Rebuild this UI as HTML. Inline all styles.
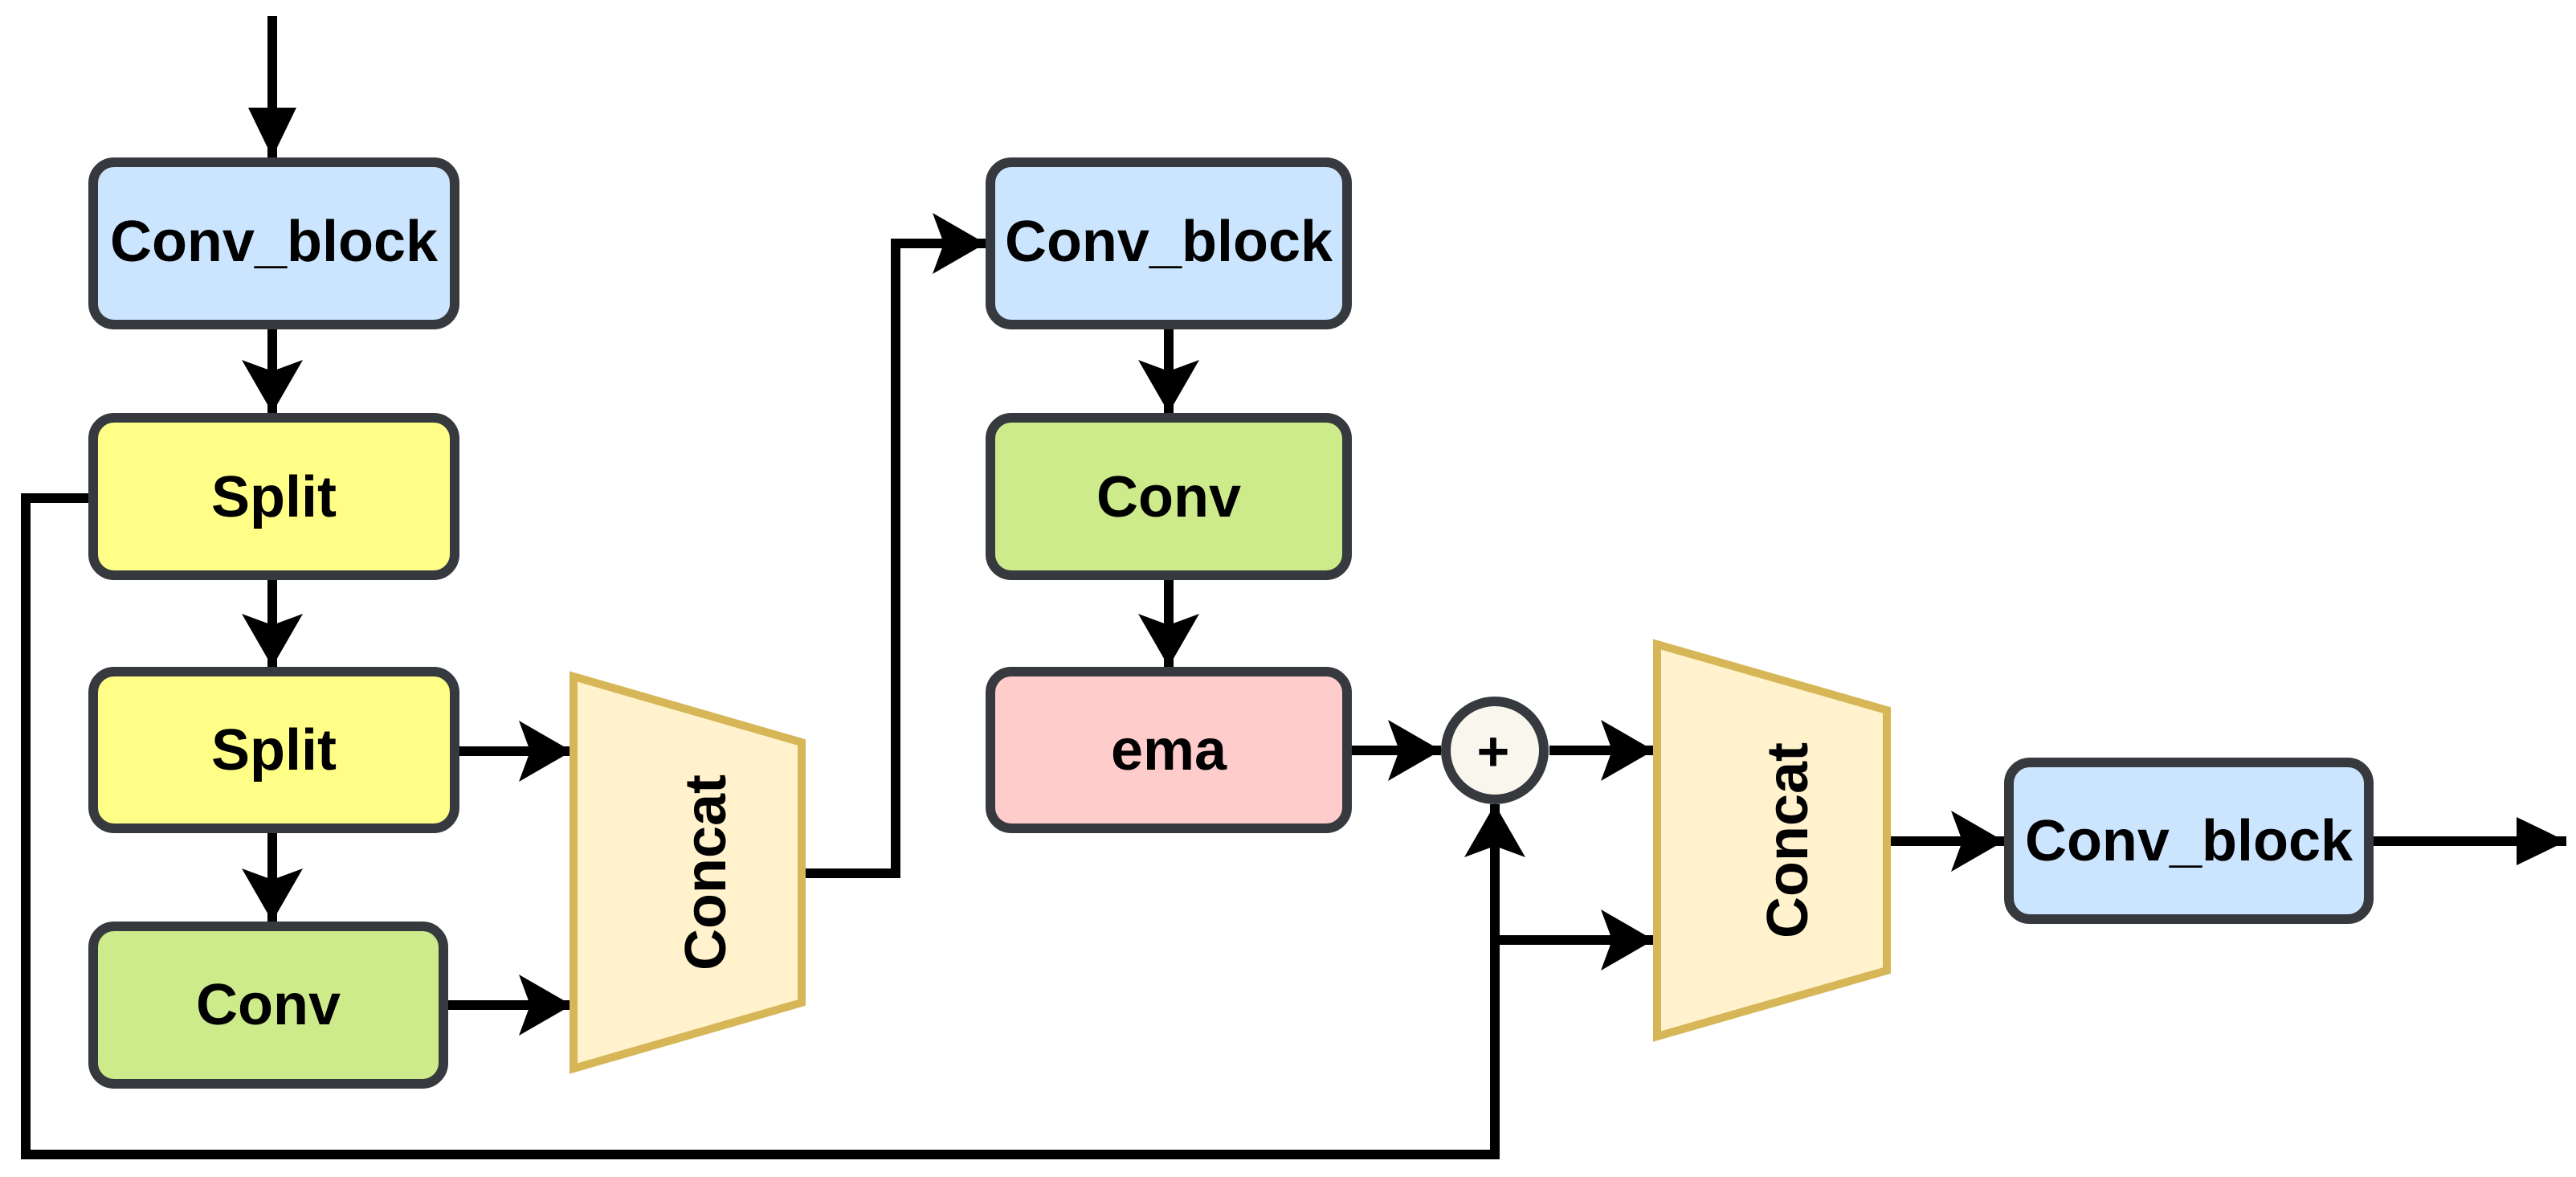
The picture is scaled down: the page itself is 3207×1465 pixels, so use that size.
<!DOCTYPE html>
<html><head><meta charset="utf-8"><style>
html,body{margin:0;padding:0;background:#fff}
svg{display:block}
text{font-family:"Liberation Sans",Arial,sans-serif;font-weight:bold;fill:#000}
</style></head><body>
<svg width="3207" height="1465" viewBox="0 0 3207 1465" xmlns="http://www.w3.org/2000/svg">
<defs>
<marker id="a" markerUnits="userSpaceOnUse" markerWidth="80" markerHeight="90" refX="66" refY="40" orient="auto" overflow="visible">
<path d="M66,40 L0,2 L14,40 L0,78 Z" fill="#000"/>
</marker>
<marker id="b" markerUnits="userSpaceOnUse" markerWidth="80" markerHeight="90" refX="62" refY="36" orient="auto" overflow="visible">
<path d="M62,36 L0,6 L0,66 Z" fill="#000"/>
</marker>
</defs>
<g fill="none" stroke="#000" stroke-width="12">
<line x1="339" y1="20" x2="339" y2="196" marker-end="url(#b)"/>
<line x1="339" y1="410" x2="339" y2="514" marker-end="url(#a)"/>
<line x1="339" y1="722" x2="339" y2="830" marker-end="url(#a)"/>
<line x1="339" y1="1037" x2="339" y2="1147" marker-end="url(#a)"/>
<line x1="572" y1="935" x2="712" y2="935" marker-end="url(#a)"/>
<line x1="558" y1="1251" x2="712" y2="1251" marker-end="url(#a)"/>
<polyline points="1002,1087 1115,1087 1115,303 1227,303" marker-end="url(#a)"/>
<line x1="1455" y1="410" x2="1455" y2="514" marker-end="url(#a)"/>
<line x1="1455" y1="722" x2="1455" y2="830" marker-end="url(#a)"/>
<line x1="1683" y1="934" x2="1794" y2="934" marker-end="url(#a)"/>
<line x1="1929" y1="934" x2="2059" y2="934" marker-end="url(#a)"/>
<polyline points="110,620 32,620 32,1437 1861,1437 1861,1001" marker-end="url(#a)"/>
<line x1="1861" y1="1170" x2="2059" y2="1170" marker-end="url(#a)"/>
<line x1="2352" y1="1047" x2="2495" y2="1047" marker-end="url(#a)"/>
<line x1="2955" y1="1047" x2="3195" y2="1047" marker-end="url(#b)"/>
</g>
<g stroke="#36393d" stroke-width="12">
<rect x="116" y="202" width="450" height="202" rx="26" fill="#cce5ff"/>
<rect x="116" y="520" width="450" height="196" rx="26" fill="#ffff88"/>
<rect x="116" y="836" width="450" height="195" rx="26" fill="#ffff88"/>
<rect x="116" y="1153" width="436" height="196" rx="26" fill="#cdeb8b"/>
<rect x="1233" y="202" width="444" height="202" rx="26" fill="#cce5ff"/>
<rect x="1233" y="520" width="444" height="196" rx="26" fill="#cdeb8b"/>
<rect x="1233" y="836" width="444" height="195" rx="26" fill="#ffcccc"/>
<rect x="2501" y="949" width="448" height="195" rx="26" fill="#cce5ff"/>
<circle cx="1861" cy="934" r="61" fill="#f9f7ed"/>
</g>
<g stroke="#d6b656" stroke-width="10" fill="#fff2cc">
<polygon points="714,842 998,924 998,1248 714,1330"/>
<polygon points="2063,802 2349,884 2349,1208 2063,1290"/>
</g>
<g font-size="72" text-anchor="middle">
<text x="341" y="325">Conv_block</text>
<text x="341" y="643">Split</text>
<text x="341" y="958">Split</text>
<text x="334" y="1275">Conv</text>
<text x="1455" y="325">Conv_block</text>
<text x="1455" y="643">Conv</text>
<text x="1455" y="958">ema</text>
<text x="2725" y="1071">Conv_block</text>
<text transform="translate(878,1086) rotate(-90)" y="25">Concat</text>
<text transform="translate(2225,1046) rotate(-90)" y="25">Concat</text>
<text x="1859" y="959" font-size="70">+</text>
</g>
</svg>
</body></html>
